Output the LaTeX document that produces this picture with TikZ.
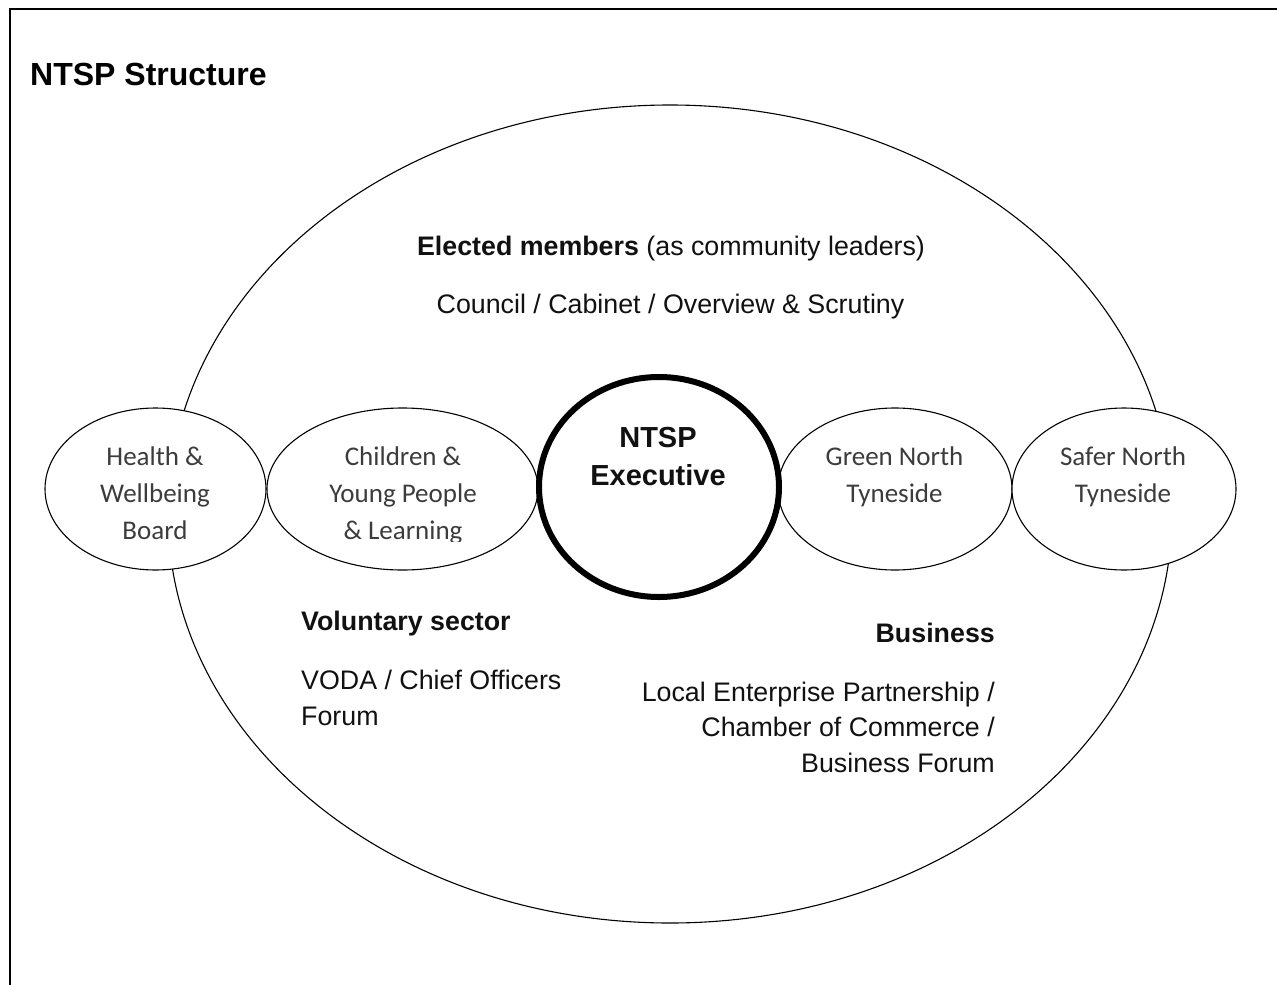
\documentclass[tikz,border=0pt]{standalone}
\usepackage{fontspec}
\setmainfont{Liberation Sans}
\newfontfamily\calibrifont{Carlito}
\usetikzlibrary{shapes.geometric}
\definecolor{ink}{HTML}{111111}
\definecolor{soft}{HTML}{3C3C3C}
\begin{document}
\begin{tikzpicture}[x=1pt,y=-1pt,
  group/.style={ellipse, draw=black, line width=1.1pt, fill=white, inner sep=0pt, minimum height=162pt},
  body/.style={font=\fontsize{26.8}{35.5}\selectfont, text=ink, inner sep=0pt, anchor=base},
  head/.style={body, font=\fontsize{26.8}{35.5}\selectfont\bfseries},
  grouptext/.style={font=\calibrifont\fontsize{27}{37}\selectfont, text=soft, inner sep=0pt, anchor=base, align=center},
]
\useasboundingbox (0,0) rectangle (1277,985);
% page frame
\draw[line width=2pt] (10,985) -- (10,9) -- (1277,9);

\node[anchor=base west, inner sep=0pt, font=\fontsize{32}{38}\selectfont\bfseries] (title) at (30,85) {NTSP Structure};

% outer partnership ellipse
\node[ellipse, draw=black, line width=1.1pt, inner sep=0pt, minimum width=1004pt, minimum height=818pt] (outer) at (670,514) {};

% partnership boards
\node[group, minimum width=221pt] (health) at (155.5,489) {};
\node[group, minimum width=271pt] (children) at (402.5,489) {};
\node[group, minimum width=234pt] (green) at (895,489) {};
\node[group, minimum width=224pt] (safer) at (1124,489) {};
\node[ellipse, draw=black, line width=6pt, fill=white, inner sep=0pt, minimum width=240pt, minimum height=220pt] (exec) at (659,487) {};

% board names (anchored on the baseline of their last line)
\node[grouptext] (healthtxt) at (155,539) {Health \&\\Wellbeing\\Board};
\begin{scope}
  \clip (267,400) rectangle (538,541);
  \node[grouptext] (childtxt) at (403,539) {Children \&\\Young People\\\& Learning};
\end{scope}
\node[grouptext] (greentxt) at (894.5,502) {Green North\\Tyneside};
\node[grouptext] (safertxt) at (1123,502) {Safer North\\Tyneside};

\node[font=\fontsize{29}{38}\selectfont\bfseries, text=ink, inner sep=0pt, anchor=base, align=center] (exectxt) at (658,485) {NTSP\\Executive};

% sector texts
\node[body] (elected) at (671,255) {\textbf{Elected members} (as community leaders)};
\node[body] (council) at (670.5,313) {Council / Cabinet / Overview \& Scrutiny};

\node[head, anchor=base west] (vol) at (301,630) {Voluntary sector};
\node[body, anchor=base west, align=left] (voda) at (301,725) {VODA / Chief Officers\\Forum};

\node[head, anchor=base east] (bus) at (995,642) {Business};
\node[body, anchor=base east, align=right] (lep) at (995,772) {Local Enterprise Partnership /\\Chamber of Commerce /\\Business Forum};
\end{tikzpicture}
\end{document}
